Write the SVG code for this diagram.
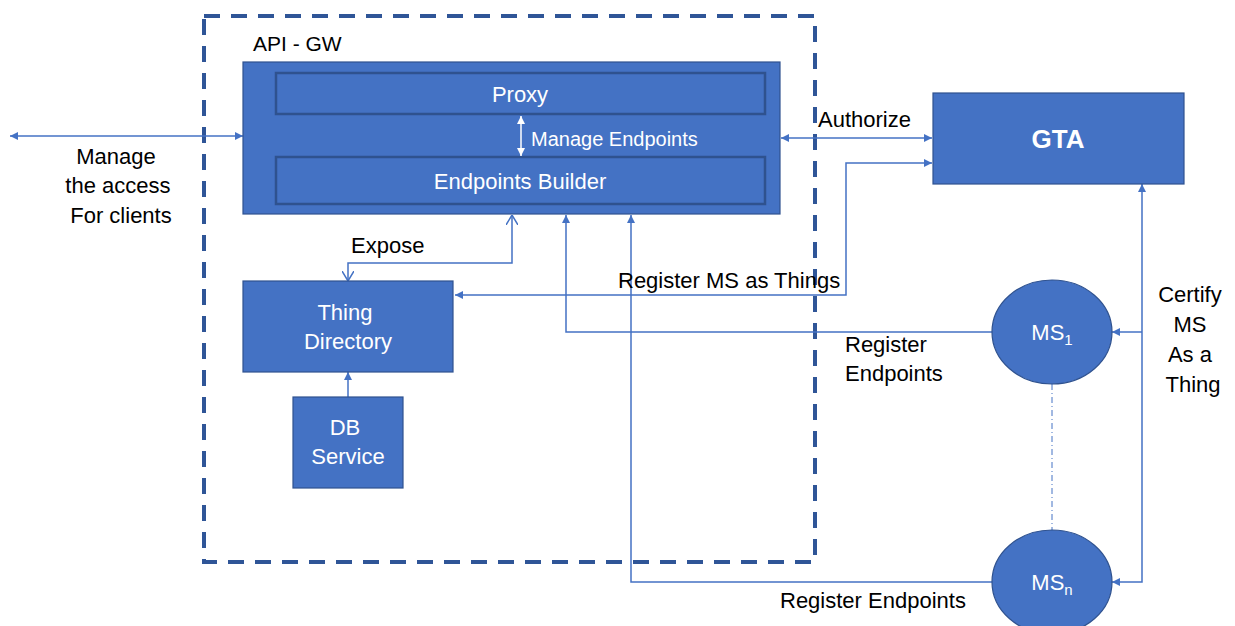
<svg xmlns="http://www.w3.org/2000/svg" width="1235" height="626" viewBox="0 0 1235 626">
  <style>
    .box { fill: #4472C4; stroke: #2F528F; stroke-width: 1.2; }
    .inner { fill: #4472C4; stroke: #2F528F; stroke-width: 2.5; }
    .wt { font-family: "Liberation Sans", Arial, sans-serif; font-size: 22px; fill: #FFFFFF; }
    .bt { font-family: "Liberation Sans", Arial, sans-serif; font-size: 22px; fill: #000000; }
    .small { font-size: 20px; }
    .mid { font-size: 21px; }
    .conn { fill: none; stroke: #4472C4; stroke-width: 1.5; }
    .frame { fill: none; stroke: #2F5597; stroke-width: 4; stroke-dasharray: 16 11; }
  </style>
  <defs>
    <marker id="tri" viewBox="0 0 10 10" refX="10" refY="5" markerWidth="9" markerHeight="8" markerUnits="userSpaceOnUse" orient="auto-start-reverse">
      <path d="M0,0 L10,5 L0,10 z" fill="#4472C4"/>
    </marker>
    <marker id="triW" viewBox="0 0 10 10" refX="10" refY="5" markerWidth="9" markerHeight="8" markerUnits="userSpaceOnUse" orient="auto-start-reverse">
      <path d="M0,0 L10,5 L0,10 z" fill="#FFFFFF"/>
    </marker>
    <marker id="open" viewBox="0 0 10 12" refX="10" refY="6" markerWidth="10" markerHeight="12" markerUnits="userSpaceOnUse" orient="auto-start-reverse">
      <path d="M0,0 L10,6 L0,12" fill="none" stroke="#4472C4" stroke-width="1.5"/>
    </marker>
  </defs>

  <!-- API gateway boundary -->
  <g id="api-gw-boundary">
    <rect class="frame" x="204" y="16" width="611" height="546"/>
    <text class="bt mid" x="253" y="51">API - GW</text>
  </g>

  <!-- connectors -->
  <g id="connectors">
    <path class="conn" d="M10 136 H243" marker-start="url(#tri)" marker-end="url(#tri)"/>
    <path class="conn" d="M781 138 H932" marker-start="url(#tri)" marker-end="url(#tri)"/>
    <path class="conn" d="M932 163 H846 V295 H455" marker-start="url(#tri)" marker-end="url(#tri)"/>
    <path class="conn" d="M512 215 V263 H348 V281" marker-start="url(#open)" marker-end="url(#open)"/>
    <path class="conn" d="M992 332 H566 V215" marker-end="url(#tri)"/>
    <path class="conn" d="M992 582 H631 V215" marker-end="url(#tri)"/>
    <path class="conn" d="M348 397 V372" marker-end="url(#tri)"/>
    <path class="conn" d="M1142 184 V582 H1112" marker-start="url(#tri)" marker-end="url(#tri)"/>
    <path class="conn" d="M1142 332 H1112" marker-end="url(#tri)"/>
    <path d="M1052 384 V530" fill="none" stroke="#4472C4" stroke-width="1" stroke-dasharray="6 3 1 3"/>
  </g>

  <!-- edge labels -->
  <g id="labels">
    <text class="bt" text-anchor="middle">
      <tspan x="119" y="164">Manage</tspan>
      <tspan x="121" y="193">the access</tspan>
      <tspan x="121" y="223">For clients</tspan>
    </text>
    <text class="bt" x="818" y="127">Authorize</text>
    <text class="bt" x="351" y="253">Expose</text>
    <text class="bt" x="618" y="288">Register MS as Things</text>
    <text class="bt">
      <tspan x="845" y="352">Register</tspan>
      <tspan x="845" y="381">Endpoints</tspan>
    </text>
    <text class="bt" x="780" y="608">Register Endpoints</text>
    <text class="bt" text-anchor="middle">
      <tspan x="1193" y="302">Certify</tspan>
      <tspan x="1193" y="332">MS</tspan>
      <tspan x="1193" y="362">As a</tspan>
      <tspan x="1193" y="392">Thing</tspan>
    </text>
  </g>

  <!-- API gateway core with proxy and endpoints builder -->
  <g id="api-core">
    <rect class="box" x="243" y="62" width="537" height="152"/>
  </g>
  <g id="proxy">
    <rect class="inner" x="276" y="73" width="489" height="41"/>
    <text class="wt" x="520" y="102" text-anchor="middle">Proxy</text>
  </g>
  <g id="endpoints-builder">
    <rect class="inner" x="276" y="157" width="489" height="47"/>
    <text class="wt" x="520" y="189" text-anchor="middle">Endpoints Builder</text>
  </g>
  <g id="manage-endpoints">
    <path d="M521 116 V156" fill="none" stroke="#FFFFFF" stroke-width="1.5" marker-start="url(#triW)" marker-end="url(#triW)"/>
    <text class="wt small" x="531" y="146">Manage Endpoints</text>
  </g>

  <g id="thing-directory">
    <rect class="box" x="243" y="281" width="210" height="91"/>
    <text class="wt" text-anchor="middle">
      <tspan x="348" y="320">Thing</tspan>
      <tspan x="348" y="349">Directory</tspan>
    </text>
  </g>

  <g id="db-service">
    <rect class="box" x="293" y="397" width="110" height="91"/>
    <text class="wt" text-anchor="middle">
      <tspan x="348" y="435">DB</tspan>
      <tspan x="348" y="464">Service</tspan>
    </text>
  </g>

  <g id="gta">
    <rect class="box" x="933" y="93" width="251" height="91"/>
    <text x="1058" y="148" text-anchor="middle" font-family="Liberation Sans, Arial, sans-serif" font-size="26" font-weight="bold" fill="#FFFFFF">GTA</text>
  </g>

  <g id="ms1">
    <ellipse class="box" cx="1052" cy="332" rx="60" ry="52"/>
    <text class="wt" x="1052" y="340" text-anchor="middle">MS<tspan style="font-size:15px" dy="5">1</tspan></text>
  </g>

  <g id="msn">
    <ellipse class="box" cx="1052" cy="582" rx="60" ry="52"/>
    <text class="wt" x="1052" y="590" text-anchor="middle">MS<tspan style="font-size:15px" dy="5">n</tspan></text>
  </g>
</svg>
